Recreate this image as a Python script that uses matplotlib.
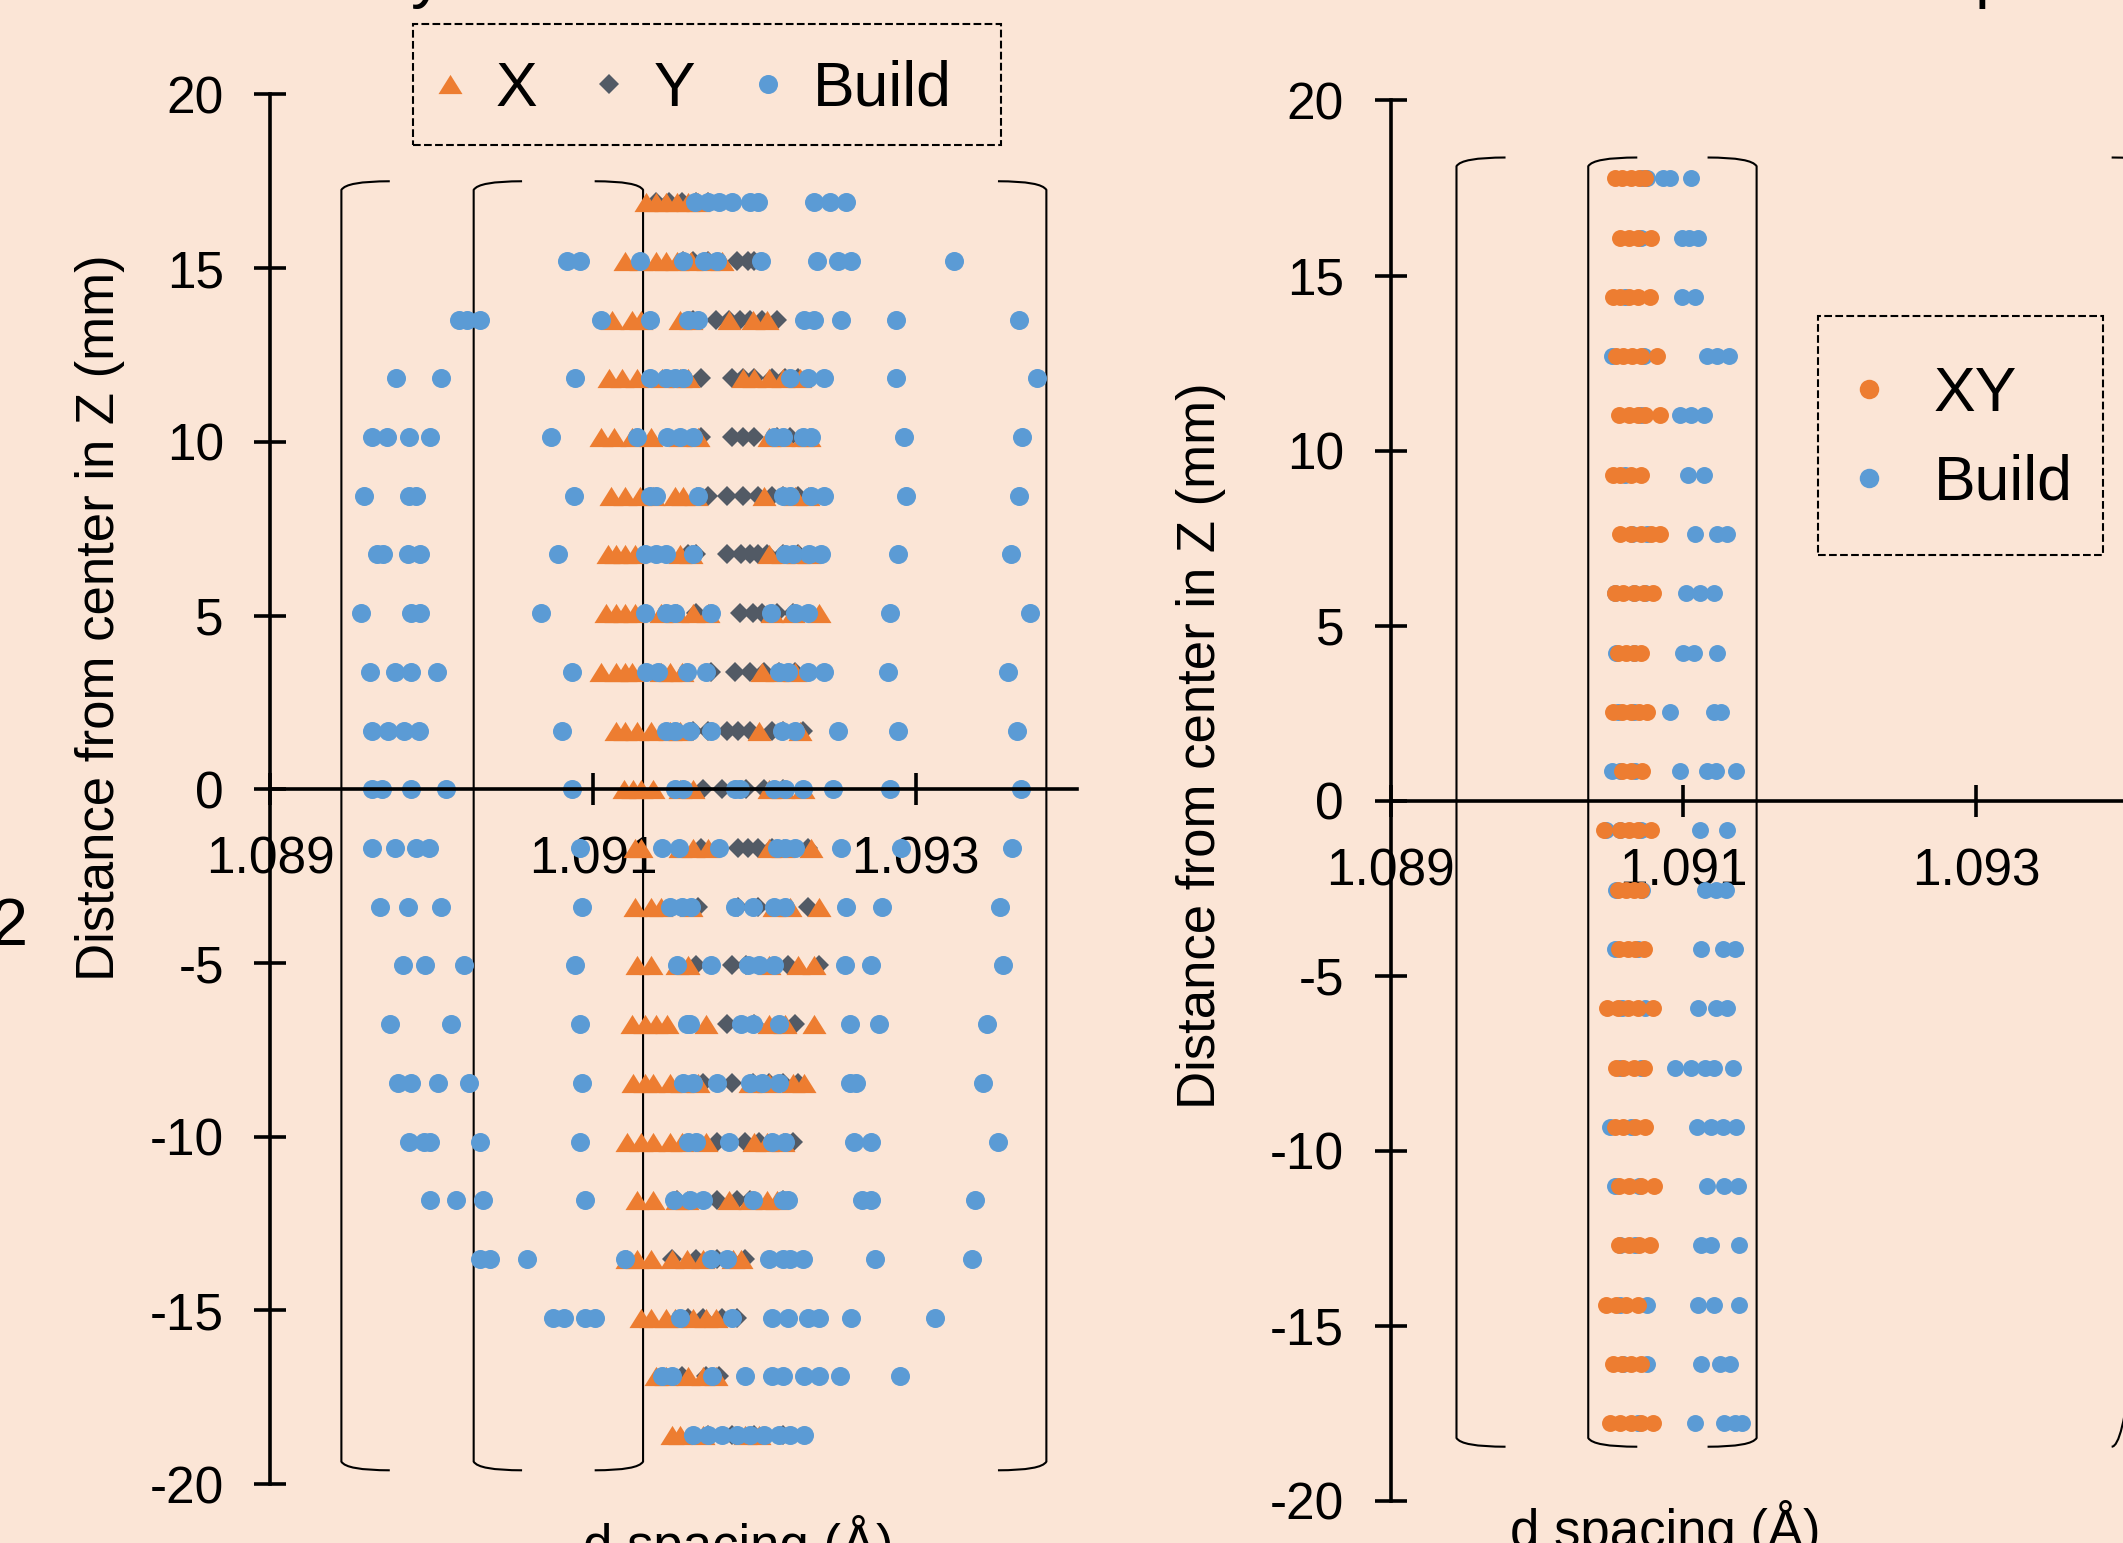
import numpy as np
import matplotlib
matplotlib.use("Agg")
import matplotlib.pyplot as plt
from matplotlib.path import Path
from matplotlib.patches import PathPatch, Rectangle

plt.rcParams['font.family'] = ['Liberation Sans', 'DejaVu Sans']
plt.rcParams['axes.unicode_minus'] = False

# ---- data: left panel (X, Y, Build), one list per z level, top to bottom ----
left_z = [16.9, 15.21, 13.52, 11.83, 10.14, 8.45, 6.76, 5.07, 3.38, 1.69, 0.0,
          -1.69, -3.38, -5.07, -6.76, -8.45, -10.14, -11.83, -13.52, -15.21, -16.9, -18.59]

x_rows = [
    [1.09133, 1.09139, 1.09145, 1.09152, 1.09159, 1.09165],
    [1.09120, 1.09130, 1.09139, 1.09145, 1.09152, 1.09161, 1.09171, 1.09180],
    [1.09112, 1.09124, 1.09130, 1.09154, 1.09161, 1.09184, 1.09199, 1.09208],
    [1.09110, 1.09118, 1.09127, 1.09143, 1.09154, 1.09159, 1.09193, 1.09200, 1.09209, 1.09218, 1.09228],
    [1.09105, 1.09113, 1.09124, 1.09136, 1.09154, 1.09165, 1.09209, 1.09218, 1.09230, 1.09234],
    [1.09111, 1.09120, 1.09129, 1.09137, 1.09151, 1.09156, 1.09164, 1.09206, 1.09225, 1.09233],
    [1.09109, 1.09114, 1.09120, 1.09126, 1.09154, 1.09161, 1.09209, 1.09218, 1.09227, 1.09234],
    [1.09108, 1.09114, 1.09120, 1.09126, 1.09142, 1.09152, 1.09162, 1.09171, 1.09211, 1.09224, 1.09240],
    [1.09105, 1.09114, 1.09120, 1.09124, 1.09142, 1.09148, 1.09155, 1.09205, 1.09214, 1.09225],
    [1.09114, 1.09120, 1.09127, 1.09136, 1.09148, 1.09154, 1.09203, 1.09228],
    [1.09119, 1.09125, 1.09130, 1.09137, 1.09154, 1.09162, 1.09209, 1.09218, 1.09230],
    [1.09126, 1.09130, 1.09154, 1.09162, 1.09171, 1.09209, 1.09218, 1.09235],
    [1.09126, 1.09136, 1.09142, 1.09161, 1.09212, 1.09222, 1.09240],
    [1.09127, 1.09136, 1.09152, 1.09159, 1.09209, 1.09227, 1.09237],
    [1.09124, 1.09132, 1.09139, 1.09146, 1.09170, 1.09209, 1.09219, 1.09237],
    [1.09125, 1.09132, 1.09137, 1.09148, 1.09155, 1.09165, 1.09197, 1.09209, 1.09224, 1.09231],
    [1.09121, 1.09130, 1.09137, 1.09148, 1.09155, 1.09170, 1.09200, 1.09208, 1.09218],
    [1.09127, 1.09137, 1.09152, 1.09158, 1.09184, 1.09197, 1.09208, 1.09214],
    [1.09121, 1.09127, 1.09136, 1.09149, 1.09158, 1.09168, 1.09187, 1.09192],
    [1.09130, 1.09136, 1.09145, 1.09151, 1.09162, 1.09170, 1.09176],
    [1.09139, 1.09145, 1.09159, 1.09168, 1.09176],
    [1.09149, 1.09154, 1.09168, 1.09194, 1.09203],
]

y_rows = [
    [1.09139, 1.09147, 1.09155, 1.09164, 1.09171],
    [1.09156, 1.09162, 1.09171, 1.09189, 1.09196, 1.09200],
    [1.09162, 1.09176, 1.09184, 1.09191, 1.09197, 1.09205, 1.09214],
    [1.09167, 1.09186, 1.09193, 1.09200, 1.09211, 1.09219, 1.09227],
    [1.09167, 1.09186, 1.09193, 1.09200, 1.09214, 1.09222],
    [1.09171, 1.09183, 1.09193, 1.09202, 1.09211, 1.09218, 1.09227],
    [1.09159, 1.09164, 1.09183, 1.09192, 1.09197, 1.09202, 1.09208, 1.09218, 1.09227],
    [1.09164, 1.09191, 1.09199, 1.09205, 1.09214, 1.09224],
    [1.09173, 1.09188, 1.09197, 1.09206, 1.09215, 1.09225],
    [1.09162, 1.09171, 1.09183, 1.09190, 1.09197, 1.09211, 1.09218, 1.09230],
    [1.09168, 1.09180, 1.09195, 1.09206, 1.09218],
    [1.09167, 1.09190, 1.09196, 1.09202, 1.09211, 1.09233],
    [1.09165, 1.09190, 1.09202, 1.09233],
    [1.09164, 1.09186, 1.09195, 1.09221, 1.09240],
    [1.09183, 1.09200, 1.09225],
    [1.09168, 1.09186, 1.09199, 1.09209, 1.09218, 1.09227],
    [1.09177, 1.09194, 1.09203, 1.09224],
    [1.09152, 1.09177, 1.09189, 1.09197, 1.09218],
    [1.09149, 1.09164, 1.09177, 1.09194],
    [1.09159, 1.09168, 1.09180, 1.09189],
    [1.09155, 1.09170, 1.09178],
    [1.09171, 1.09186, 1.09200, 1.09218],
]

build_rows = [
    [1.09163, 1.09171, 1.09178, 1.09186, 1.09197, 1.09202, 1.09237, 1.09247, 1.09257],
    [1.09084, 1.09092, 1.09129, 1.09156, 1.09169, 1.09177, 1.09204, 1.09239, 1.09252, 1.09260, 1.09324],
    [1.09017, 1.09022, 1.09030, 1.09105, 1.09135, 1.09159, 1.09165, 1.09231, 1.09237, 1.09254, 1.09288, 1.09364],
    [1.08978, 1.09006, 1.09089, 1.09135, 1.09145, 1.09151, 1.09156, 1.09222, 1.09233, 1.09243, 1.09288, 1.09375],
    [1.08963, 1.08972, 1.08986, 1.08999, 1.09074, 1.09127, 1.09146, 1.09154, 1.09162, 1.09212, 1.09218,
     1.09230, 1.09235, 1.09293, 1.09366],
    [1.08958, 1.08986, 1.08990, 1.09088, 1.09135, 1.09139, 1.09165, 1.09218, 1.09222, 1.09235, 1.09243,
     1.09294, 1.09364],
    [1.08966, 1.08970, 1.08985, 1.08993, 1.09078, 1.09132, 1.09139, 1.09145, 1.09162, 1.09219, 1.09224,
     1.09234, 1.09241, 1.09289, 1.09359],
    [1.08956, 1.08987, 1.08993, 1.09068, 1.09132, 1.09145, 1.09151, 1.09173, 1.09210, 1.09225, 1.09233,
     1.09284, 1.09371],
    [1.08962, 1.08977, 1.08987, 1.09003, 1.09087, 1.09133, 1.09140, 1.09158, 1.09170, 1.09215, 1.09221,
     1.09233, 1.09243, 1.09283, 1.09357],
    [1.08963, 1.08973, 1.08983, 1.08992, 1.09081, 1.09145, 1.09151, 1.09160, 1.09173, 1.09217, 1.09225,
     1.09252, 1.09289, 1.09363],
    [1.08963, 1.08969, 1.08987, 1.09009, 1.09087, 1.09151, 1.09156, 1.09188, 1.09191, 1.09212, 1.09219,
     1.09230, 1.09249, 1.09284, 1.09365],
    [1.08963, 1.08977, 1.08990, 1.08998, 1.09092, 1.09143, 1.09153, 1.09178, 1.09214, 1.09219, 1.09225,
     1.09254, 1.09291, 1.09360],
    [1.08968, 1.08985, 1.09006, 1.09093, 1.09148, 1.09155, 1.09161, 1.09188, 1.09199, 1.09212, 1.09219,
     1.09257, 1.09279, 1.09352],
    [1.08982, 1.08996, 1.09020, 1.09089, 1.09152, 1.09173, 1.09196, 1.09203, 1.09212, 1.09256, 1.09272, 1.09354],
    [1.08974, 1.09012, 1.09092, 1.09158, 1.09160, 1.09192, 1.09199, 1.09215, 1.09259, 1.09277, 1.09344],
    [1.08979, 1.08987, 1.09004, 1.09023, 1.09093, 1.09156, 1.09162, 1.09177, 1.09197, 1.09205, 1.09215,
     1.09259, 1.09263, 1.09342],
    [1.08986, 1.08995, 1.08999, 1.09030, 1.09092, 1.09159, 1.09164, 1.09184, 1.09211, 1.09219, 1.09262,
     1.09272, 1.09351],
    [1.08999, 1.09015, 1.09032, 1.09095, 1.09150, 1.09160, 1.09168, 1.09199, 1.09218, 1.09221, 1.09267,
     1.09272, 1.09337],
    [1.09030, 1.09036, 1.09059, 1.09120, 1.09173, 1.09183, 1.09209, 1.09218, 1.09222, 1.09230, 1.09275, 1.09335],
    [1.09075, 1.09082, 1.09095, 1.09101, 1.09154, 1.09186, 1.09211, 1.09221, 1.09233, 1.09240, 1.09260, 1.09312],
    [1.09143, 1.09149, 1.09174, 1.09194, 1.09211, 1.09218, 1.09231, 1.09240, 1.09253, 1.09290],
    [1.09162, 1.09171, 1.09180, 1.09189, 1.09197, 1.09206, 1.09215, 1.09222, 1.09231],
]

# ---- data: right panel (XY, Build) ----
right_z = [17.78, 16.08, 14.39, 12.7, 11.01, 9.31, 7.62, 5.93, 4.23, 2.54, 0.85,
           -0.85, -2.54, -4.23, -5.93, -7.62, -9.31, -11.01, -12.7, -14.39, -16.08, -17.78]

xy_rows = [
    [1.09053, 1.09058, 1.09064, 1.09070, 1.09074],
    [1.09057, 1.09063, 1.09069, 1.09078],
    [1.09052, 1.09057, 1.09063, 1.09069, 1.09077],
    [1.09054, 1.09059, 1.09065, 1.09071, 1.09082],
    [1.09056, 1.09063, 1.09069, 1.09074, 1.09084],
    [1.09052, 1.09057, 1.09064, 1.09071],
    [1.09057, 1.09064, 1.09071, 1.09078, 1.09084],
    [1.09053, 1.09059, 1.09066, 1.09073, 1.09079],
    [1.09055, 1.09061, 1.09066, 1.09071],
    [1.09052, 1.09058, 1.09064, 1.09070, 1.09075],
    [1.09058, 1.09064, 1.09072],
    [1.09046, 1.09057, 1.09063, 1.09069, 1.09078],
    [1.09055, 1.09061, 1.09066, 1.09071],
    [1.09056, 1.09062, 1.09067, 1.09073],
    [1.09048, 1.09055, 1.09062, 1.09069, 1.09079],
    [1.09054, 1.09059, 1.09066, 1.09073],
    [1.09053, 1.09059, 1.09067, 1.09074],
    [1.09056, 1.09063, 1.09071, 1.09080],
    [1.09056, 1.09063, 1.09070, 1.09077],
    [1.09047, 1.09054, 1.09061, 1.09069],
    [1.09052, 1.09058, 1.09064, 1.09071],
    [1.09050, 1.09057, 1.09064, 1.09071, 1.09079],
]

build2_rows = [
    [1.09072, 1.09075, 1.09086, 1.09091, 1.09105],
    [1.09071, 1.09099, 1.09104, 1.09110],
    [1.09060, 1.09099, 1.09108],
    [1.09051, 1.09073, 1.09116, 1.09123, 1.09131],
    [1.09071, 1.09098, 1.09105, 1.09114],
    [1.09060, 1.09103, 1.09114],
    [1.09065, 1.09075, 1.09108, 1.09123, 1.09130],
    [1.09053, 1.09066, 1.09074, 1.09102, 1.09111, 1.09121],
    [1.09054, 1.09066, 1.09100, 1.09107, 1.09123],
    [1.09055, 1.09066, 1.09091, 1.09121, 1.09126],
    [1.09051, 1.09057, 1.09067, 1.09098, 1.09116, 1.09122, 1.09136],
    [1.09047, 1.09057, 1.09071, 1.09111, 1.09130],
    [1.09054, 1.09072, 1.09115, 1.09122, 1.09129],
    [1.09053, 1.09069, 1.09112, 1.09127, 1.09135],
    [1.09058, 1.09074, 1.09110, 1.09122, 1.09130],
    [1.09057, 1.09071, 1.09094, 1.09105, 1.09115, 1.09121, 1.09134],
    [1.09050, 1.09064, 1.09109, 1.09119, 1.09127, 1.09136],
    [1.09053, 1.09070, 1.09116, 1.09128, 1.09137],
    [1.09057, 1.09067, 1.09112, 1.09119, 1.09138],
    [1.09057, 1.09075, 1.09110, 1.09121, 1.09138],
    [1.09059, 1.09075, 1.09112, 1.09125, 1.09132],
    [1.09069, 1.09108, 1.09128, 1.09135, 1.09140],
]

d_ticks = [1.089, 1.091, 1.093]
d_labels = ['1.089', '1.091', '1.093']
z_ticks = [-20, -15, -10, -5, 0, 5, 10, 15, 20]

# bracket positions (d value, +1 opens right / -1 opens left)
left_brackets = [(1.08944, 1), (1.09026, 1), (1.09131, -1), (1.09381, -1)]
right_brackets = [(1.08945, 1), (1.09035, 1), (1.09150, -1), (1.09426, -1)]

bg = '#FBE5D6'
orange = '#ED7D31'
blue = '#5B9BD5'
grey = '#525A65'
tri = [(-1, -0.8), (1, -0.8), (0, 0.8), (-1, -0.8)]


def flatten(rows, zs):
    xs, ys = [], []
    for r, z in zip(rows, zs):
        xs += r
        ys += [z] * len(r)
    return xs, ys


def style(ax):
    ax.set_facecolor('none')
    ax.set_xlim(1.089, 1.094)
    ax.set_ylim(-20, 20)
    ax.spines['top'].set_visible(False)
    ax.spines['right'].set_visible(False)
    ax.spines['bottom'].set_position(('data', 0))
    ax.spines['left'].set_linewidth(2.6)
    ax.spines['bottom'].set_linewidth(2.6)
    ax.set_xticks(d_ticks)
    ax.set_xticklabels(d_labels)
    ax.set_yticks(z_ticks)
    ax.tick_params(direction='inout', length=23, width=2.6, pad=22, labelsize=37, colors='black')


def bracket(ax, x, side, top, bottom, arm, curl=0.25):
    verts = [(x + side * arm, top), (x + side * arm * 0.1, top), (x, top - curl),
             (x, bottom + curl), (x + side * arm * 0.1, bottom), (x + side * arm, bottom)]
    codes = [Path.MOVETO, Path.CURVE3, Path.CURVE3, Path.LINETO, Path.CURVE3, Path.CURVE3]
    ax.add_patch(PathPatch(Path(verts, codes), fill=False, lw=1.5, edgecolor='black', clip_on=False))


def dashed_box(fig, x0, y0, w, h):
    fig.add_artist(Rectangle((x0, y0), w, h, transform=fig.transFigure, fill=False,
                             ls='--', lw=1.5, edgecolor='black'))


fig = plt.figure(figsize=(21.23, 15.43), dpi=100, facecolor=bg)

# ---- left panel ----
ax1 = fig.add_axes([0.12737, 0.03811, 0.37994, 0.90072])
style(ax1)
xs, zs = flatten(y_rows, left_z)
hy, = ax1.plot(xs, zs, ls='none', marker='D', ms=10.5, mew=0, color=grey, label='Y')
xs, zs = flatten(x_rows, left_z)
hx, = ax1.plot(xs, zs, ls='none', marker=tri, ms=17.3, mew=0, color=orange, label='X')
xs, zs = flatten(build_rows, left_z)
hb, = ax1.plot(xs, zs, ls='none', marker='o', ms=13.7, mew=0, color=blue, label='Build')
for d, side in left_brackets:
    bracket(ax1, d, side, 17.5, -19.6, 0.0003)

ax1.legend(handles=[hx, hy, hb], ncol=3, loc='center', bbox_to_anchor=(0.3243, 0.9423),
           bbox_transform=fig.transFigure, fontsize=45, handlelength=0.8, handletextpad=0.32,
           columnspacing=0.75, numpoints=1, frameon=False)
dashed_box(fig, 0.1945, 0.906, 0.277, 0.0784)

# ---- right panel ----
ax2 = fig.add_axes([0.65502, 0.02722, 0.3448, 0.90769])
style(ax2)
xs, zs = flatten(build2_rows, right_z)
hb2, = ax2.plot(xs, zs, ls='none', marker='o', ms=12.2, mew=0, color=blue, label='Build')
xs, zs = flatten(xy_rows, right_z)
hxy, = ax2.plot(xs, zs, ls='none', marker='o', ms=12.2, mew=0, color=orange, label='XY')
for d, side in right_brackets:
    bracket(ax2, d, side, 18.37, -18.45, 0.000335)

ax2.legend(handles=[hxy, hb2], loc='center', bbox_to_anchor=(0.9225, 0.7158),
           bbox_transform=fig.transFigure, fontsize=45, handlelength=0.8, handletextpad=0.64,
           labelspacing=0.48, markerscale=1.15, numpoints=1, frameon=False)
dashed_box(fig, 0.8562, 0.6406, 0.1342, 0.1546)

# ---- axis titles and cut-off fragments of the surrounding figure ----
fig.text(100 / 2123, 0.5997, 'Distance from center in Z (mm)', rotation=90, ha='center', va='center', fontsize=38)
fig.text(1201 / 2123, 0.517, 'Distance from center in Z (mm)', rotation=90, ha='center', va='center', fontsize=38)
fig.text(738 / 2123, -0.0123, 'd spacing (Å)', ha='center', va='baseline', fontsize=38)
fig.text(1665 / 2123, -0.0026, 'd spacing (Å)', ha='center', va='baseline', fontsize=38)
fig.text(28 / 2123, 1 - 928 / 1543, '2', ha='right', va='center', fontsize=48)
fig.text(428 / 2123, 1.003, 'y', ha='center', va='baseline', fontsize=48)
fig.text(1975 / 2123, 1.003, 'p', ha='left', va='baseline', fontsize=48)

fig.savefig('out.png', dpi=100, facecolor=bg)
